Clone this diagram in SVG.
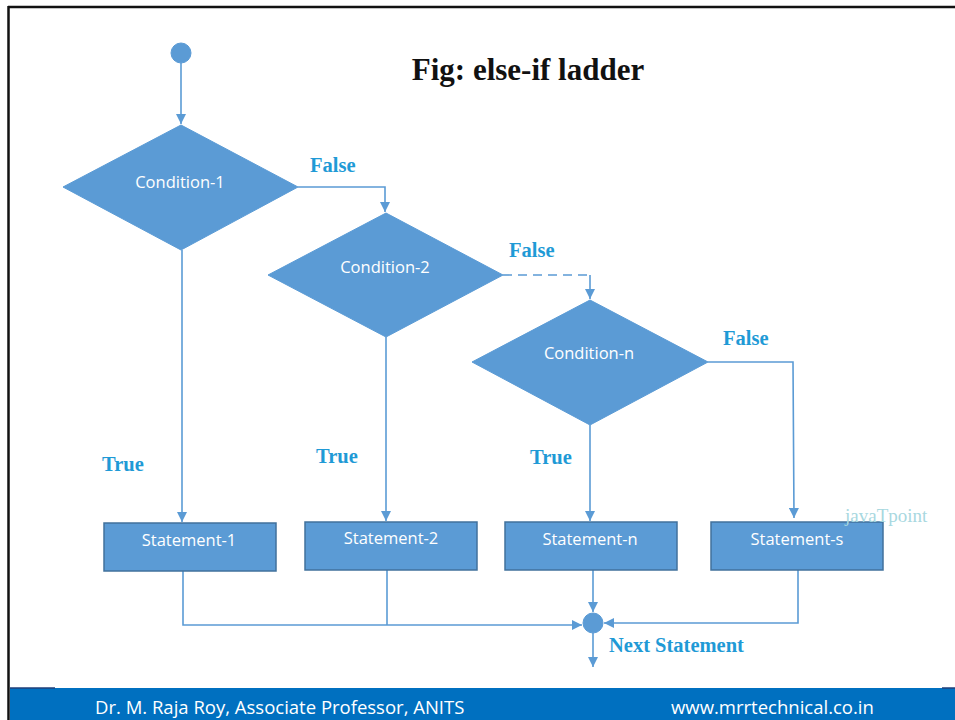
<svg xmlns="http://www.w3.org/2000/svg" width="955" height="720" viewBox="0 0 955 720">
  <style>
    .shape { fill: #5B9BD5; stroke: #5B9BD5; stroke-width: 1; }
    .box { fill: #5B9BD5; stroke: #41719C; stroke-width: 1.5; }
    .lbl { font-family: "Open Sans", "Liberation Sans", sans-serif; font-size: 16.5px; fill: #FFFFFF; text-anchor: middle; }
    .edge { fill: none; stroke: #5B9BD5; stroke-width: 1.6; }
    .dash { stroke-dasharray: 9 6; }
    .tf { font-family: "Liberation Serif", serif; font-weight: bold; font-size: 20.5px; fill: #1F9AD6; }
    .foot { font-family: "Open Sans", "Liberation Sans", sans-serif; font-size: 18.5px; fill: #FFFFFF; }
  </style>
  <defs>
    <marker id="arrow" viewBox="0 0 10 10" refX="10" refY="5" markerWidth="10" markerHeight="10" markerUnits="userSpaceOnUse" orient="auto">
      <path d="M0,0 L10,5 L0,10 Z" fill="#5B9BD5"/>
    </marker>
  </defs>

  <rect x="0" y="0" width="955" height="720" fill="#FFFFFF"/>
  <!-- frame -->
  <line x1="8" y1="7" x2="955" y2="7" stroke="#111111" stroke-width="2.5"/>
  <line x1="8.5" y1="6" x2="8.5" y2="720" stroke="#111111" stroke-width="2.5"/>

  <!-- title -->
  <text x="528" y="80" text-anchor="middle" font-family="Liberation Serif, serif" font-weight="bold" font-size="31px" fill="#111111">Fig: else-if ladder</text>

  <!-- connectors -->
  <g id="connectors">
    <line class="edge" x1="181" y1="63" x2="181" y2="124" marker-end="url(#arrow)"/>
    <polyline class="edge" points="298,187 385,187 385,212" marker-end="url(#arrow)"/>
    <polyline class="edge dash" points="503,275 590,275"/>
    <line class="edge" x1="590" y1="275" x2="590" y2="299" marker-end="url(#arrow)"/>
    <polyline class="edge" points="708,362 793,362 794,518" marker-end="url(#arrow)"/>
    <line class="edge" x1="182" y1="250" x2="182" y2="522" marker-end="url(#arrow)"/>
    <line class="edge" x1="386" y1="337" x2="386" y2="521" marker-end="url(#arrow)"/>
    <line class="edge" x1="590" y1="425" x2="590" y2="521" marker-end="url(#arrow)"/>
    <polyline class="edge" points="183,571 183,625 582,625" marker-end="url(#arrow)"/>
    <line class="edge" x1="387" y1="570" x2="387" y2="625"/>
    <line class="edge" x1="593" y1="570" x2="593" y2="612" marker-end="url(#arrow)"/>
    <polyline class="edge" points="798,570 798,623 604,623" marker-end="url(#arrow)"/>
    <line class="edge" x1="593" y1="633" x2="593" y2="667" marker-end="url(#arrow)"/>
  </g>

  <!-- start -->
  <g id="start">
    <circle class="shape" cx="181" cy="53" r="10"/>
  </g>

  <g id="cond1">
    <polygon class="shape" points="181,125 298,187 181,250 63,187"/>
    <text class="lbl" x="180" y="188">Condition-1</text>
  </g>
  <g id="cond2">
    <polygon class="shape" points="386,213 503,275 386,337 268,275"/>
    <text class="lbl" x="385" y="273">Condition-2</text>
  </g>
  <g id="condn">
    <polygon class="shape" points="590,300 708,362 590,425 472,362"/>
    <text class="lbl" x="589" y="359">Condition-n</text>
  </g>

  <g id="stmt1">
    <rect class="box" x="104" y="523" width="172" height="48"/>
    <text class="lbl" x="189" y="546">Statement-1</text>
  </g>
  <g id="stmt2">
    <rect class="box" x="305" y="522" width="172" height="48"/>
    <text class="lbl" x="391" y="544">Statement-2</text>
  </g>
  <g id="stmtn">
    <rect class="box" x="505" y="522" width="172" height="48"/>
    <text class="lbl" x="590" y="545">Statement-n</text>
  </g>
  <g id="stmts">
    <rect class="box" x="711" y="522" width="172" height="48"/>
    <text class="lbl" x="797" y="545">Statement-s</text>
  </g>

  <g id="merge">
    <circle class="shape" cx="593" cy="623" r="10"/>
  </g>

  <!-- branch labels -->
  <text class="tf" x="310" y="172">False</text>
  <text class="tf" x="509" y="257">False</text>
  <text class="tf" x="723" y="345">False</text>
  <text class="tf" x="102" y="471">True</text>
  <text class="tf" x="316" y="463">True</text>
  <text class="tf" x="530" y="464">True</text>
  <text class="tf" x="609" y="652">Next Statement</text>

  <text x="845" y="522" font-family="Liberation Serif, serif" font-size="19px" fill="#A8D8DF">javaTpoint</text>

  <!-- footer -->
  <rect x="10" y="688" width="945" height="32" fill="#0070C0"/>
  <line x1="10" y1="688" x2="55" y2="688" stroke="#1F3F7A" stroke-width="1.5"/>
  <line x1="942" y1="688" x2="955" y2="688" stroke="#1F3F7A" stroke-width="1.5"/>
  <text class="foot" x="95" y="714">Dr. M. Raja Roy, Associate Professor, ANITS</text>
  <text class="foot" x="671" y="714">www.mrrtechnical.co.in</text>
</svg>
